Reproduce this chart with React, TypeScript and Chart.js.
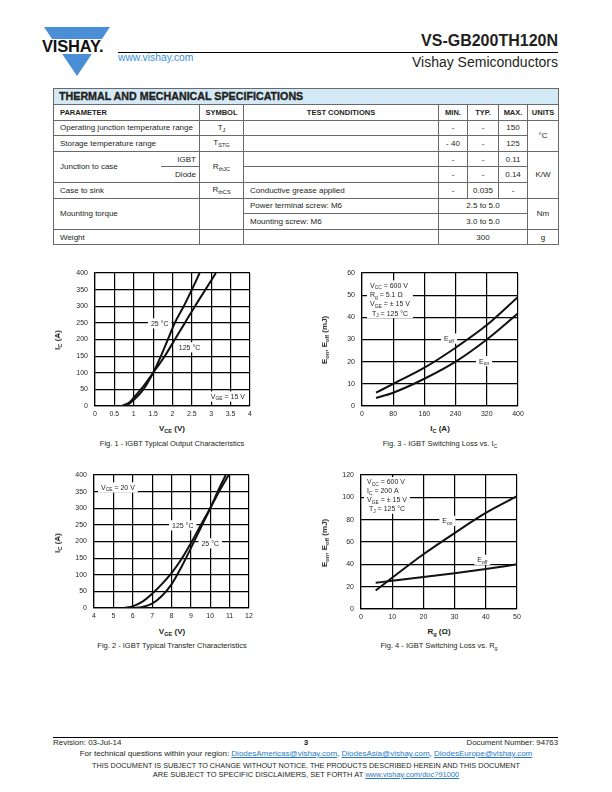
import React, { useEffect, useRef } from "react";
import { Chart, registerables } from "chart.js";

Chart.register(...registerables);

const FONT = "'Liberation Sans', Arial, Helvetica, sans-serif";
const INK = "#231f20";

// ---------- Fig. 1 - IGBT Typical Output Characteristics ----------
const FIG1_VCE_25C = [0.8, 1.0, 1.25, 1.5, 1.7, 1.88, 2.06, 2.29, 2.5, 2.7];
const FIG1_IC_25C = [0, 18, 50, 100, 150, 200, 250, 300, 350, 400];
const FIG1_VCE_125C = [0.68, 0.9, 1.0, 1.2, 1.5, 1.8, 2.06, 2.32, 2.58, 2.85, 3.12];
const FIG1_IC_125C = [0, 12, 25, 52, 100, 150, 200, 250, 300, 350, 400];

// ---------- Fig. 2 - IGBT Typical Transfer Characteristics ----------
const FIG2_VGE_125C = [5.55, 6, 6.5, 7, 7.5, 8, 8.5, 9, 9.5, 10, 10.5, 10.95];
const FIG2_IC_125C = [0, 5, 19, 43, 72, 105, 146, 195, 248, 300, 355, 400];
const FIG2_VGE_25C = [6.0, 6.5, 7, 7.5, 8, 8.5, 9, 9.5, 10, 10.4, 10.8];
const FIG2_IC_25C = [0, 3, 13, 36, 71, 122, 180, 240, 300, 352, 400];

// ---------- Fig. 3 - IGBT Switching Loss vs. IC ----------
const FIG3_IC = [36, 80, 160, 240, 320, 400];
const FIG3_EOFF = [6.0, 10.0, 17.3, 26.3, 36.5, 49.2];
const FIG3_EON = [3.6, 6.0, 12.3, 20.0, 30.0, 41.8];

// ---------- Fig. 4 - IGBT Switching Loss vs. Rg ----------
const FIG4_RG = [4.7, 10, 20, 30, 40, 50];
const FIG4_EON = [16.5, 28, 49, 68, 86, 101];
const FIG4_EOFF = [23.5, 25.2, 28.6, 32, 35.8, 40];

type Seg = { t: string; sub?: boolean };
type Ann = {
  x?: number;
  y?: number;
  px?: number;
  py?: number;
  lines: Seg[][];
  align?: "left" | "center";
  lh?: number;
};

const ANN_SIZE = 7;

function segFont(s: Seg) {
  return `${s.sub ? ANN_SIZE * 0.7 : ANN_SIZE}px ${FONT}`;
}
function measureLine(ctx: CanvasRenderingContext2D, line: Seg[]) {
  let w = 0;
  for (const s of line) {
    ctx.font = segFont(s);
    w += ctx.measureText(s.t).width;
  }
  return w;
}
function drawLine(ctx: CanvasRenderingContext2D, line: Seg[], x: number, cy: number) {
  let cx = x;
  ctx.textBaseline = "middle";
  ctx.textAlign = "left";
  ctx.fillStyle = INK;
  for (const s of line) {
    ctx.font = segFont(s);
    ctx.fillText(s.t, cx, s.sub ? cy + ANN_SIZE * 0.3 : cy);
    cx += ctx.measureText(s.t).width;
  }
}

const annPlugin = {
  id: "ann",
  beforeDatasetsDraw(chart: any, _args: any, opts: any) {
    const items: Ann[] = (opts && opts.items) || [];
    const ctx: CanvasRenderingContext2D = chart.ctx;
    const area = chart.chartArea;
    const xs = chart.scales.x;
    const ys = chart.scales.y;
    ctx.save();
    for (const it of items) {
      const cx = it.px !== undefined ? area.left + it.px : xs.getPixelForValue(it.x);
      const cy = it.py !== undefined ? area.top + it.py : ys.getPixelForValue(it.y);
      const lh = it.lh || 9.2;
      const widths = it.lines.map((l) => measureLine(ctx, l));
      const maxW = Math.max(...widths);
      const left = it.align === "left" ? cx : cx - maxW / 2;
      const top = cy - lh / 2;
      ctx.fillStyle = "#fff";
      ctx.fillRect(left - 3, top - 1, maxW + 6, it.lines.length * lh + 1);
      it.lines.forEach((l, i) => {
        const lx = it.align === "left" ? left : left + (maxW - widths[i]) / 2;
        drawLine(ctx, l, lx, top + i * lh + lh / 2);
      });
    }
    ctx.restore();
  },
};

type Series = { x: number[]; y: number[] };
type Spec = {
  plot: { l: number; t: number; w: number; h: number };
  xMin: number;
  xMax: number;
  xStep: number;
  yMin: number;
  yMax: number;
  yStep: number;
  series: Series[];
  anns: Ann[];
};

const YW = 40;
const XH = 18;
const PT = 6;
const PR = 10;

function fmt(v: any) {
  return `${+Number(v).toFixed(2)}`;
}

function ChartBox({ spec }: { spec: Spec }) {
  const ref = useRef<HTMLCanvasElement | null>(null);
  const W = YW + spec.plot.w + PR;
  const H = PT + spec.plot.h + XH;
  useEffect(() => {
    if (!ref.current) return;
    const tickFont = { family: FONT, size: 7 };
    const chart = new Chart(ref.current, {
      type: "line",
      data: {
        datasets: spec.series.map((s) => ({
          data: s.x.map((x, i) => ({ x, y: s.y[i] })),
          borderColor: "#111",
          borderWidth: 2,
          pointRadius: 0,
          fill: false,
          cubicInterpolationMode: "monotone",
        })),
      } as any,
      options: {
        animation: false,
        responsive: false,
        maintainAspectRatio: false,
        devicePixelRatio: 1,
        layout: { padding: { top: PT, right: PR, left: 0, bottom: 0 } },
        plugins: {
          legend: { display: false },
          tooltip: { enabled: false },
          ann: { items: spec.anns },
        } as any,
        scales: {
          x: {
            type: "linear",
            min: spec.xMin,
            max: spec.xMax,
            ticks: {
              stepSize: spec.xStep,
              font: tickFont,
              color: INK,
              padding: 4,
              maxRotation: 0,
              autoSkip: false,
              callback: fmt,
            },
            grid: { color: "#000", lineWidth: 1.2, drawTicks: false },
            border: { color: "#000", width: 1.2 },
            afterFit: (s: any) => {
              s.height = XH;
              s.paddingLeft = 0;
              s.paddingRight = 0;
              s.paddingTop = 0;
              s.paddingBottom = 0;
            },
          },
          y: {
            type: "linear",
            min: spec.yMin,
            max: spec.yMax,
            ticks: {
              stepSize: spec.yStep,
              font: tickFont,
              color: INK,
              padding: 7,
              autoSkip: false,
              callback: fmt,
            },
            grid: { color: "#000", lineWidth: 1.2, drawTicks: false },
            border: { color: "#000", width: 1.2 },
            afterFit: (s: any) => {
              s.width = YW;
              s.paddingTop = 0;
              s.paddingBottom = 0;
              s.paddingLeft = 0;
              s.paddingRight = 0;
            },
          },
        } as any,
      },
      plugins: [annPlugin as any],
    });
    return () => chart.destroy();
  }, []);
  return (
    <canvas
      ref={ref}
      width={W}
      height={H}
      style={{
        position: "absolute",
        left: spec.plot.l - YW,
        top: spec.plot.t - PT,
        width: W,
        height: H,
      }}
    />
  );
}

const S = (t: string): Seg => ({ t });
const B = (t: string): Seg => ({ t, sub: true });

const FIG1: Spec = {
  plot: { l: 95, t: 273, w: 155, h: 133 },
  xMin: 0,
  xMax: 4,
  xStep: 0.5,
  yMin: 0,
  yMax: 400,
  yStep: 50,
  series: [
    { x: FIG1_VCE_25C, y: FIG1_IC_25C },
    { x: FIG1_VCE_125C, y: FIG1_IC_125C },
  ],
  anns: [
    { x: 1.67, y: 247, lines: [[S("25 °C")]] },
    { x: 2.44, y: 175, lines: [[S("125 °C")]] },
    { x: 3.43, y: 27, lines: [[S("V"), B("GE"), S(" = 15 V")]] },
  ],
};

const FIG2: Spec = {
  plot: { l: 94, t: 475, w: 155, h: 133 },
  xMin: 4,
  xMax: 12,
  xStep: 1,
  yMin: 0,
  yMax: 400,
  yStep: 50,
  series: [
    { x: FIG2_VGE_125C, y: FIG2_IC_125C },
    { x: FIG2_VGE_25C, y: FIG2_IC_25C },
  ],
  anns: [
    { px: 7, py: 13, align: "left", lines: [[S("V"), B("CE"), S(" = 20 V")]] },
    { x: 8.58, y: 247, lines: [[S("125 °C")]] },
    { x: 10.0, y: 193, lines: [[S("25 °C")]] },
  ],
};

const FIG3: Spec = {
  plot: { l: 362, t: 273, w: 156, h: 133 },
  xMin: 0,
  xMax: 400,
  xStep: 80,
  yMin: 0,
  yMax: 60,
  yStep: 10,
  series: [
    { x: FIG3_IC, y: FIG3_EOFF },
    { x: FIG3_IC, y: FIG3_EON },
  ],
  anns: [
    {
      px: 8,
      py: 13,
      align: "left",
      lh: 9.2,
      lines: [
        [S("V"), B("CC"), S(" = 600 V")],
        [S("R"), B("g"), S(" = 5.1 Ω")],
        [S("V"), B("GE"), S(" = ± 15 V")],
        [S(" T"), B("J"), S(" = 125 °C")],
      ],
    },
    { x: 223, y: 30.2, lines: [[S("E"), B("off")]] },
    { x: 313, y: 20, lines: [[S("E"), B("on")]] },
  ],
};

const FIG4: Spec = {
  plot: { l: 361, t: 475, w: 156, h: 134 },
  xMin: 0,
  xMax: 50,
  xStep: 10,
  yMin: 0,
  yMax: 120,
  yStep: 20,
  series: [
    { x: FIG4_RG, y: FIG4_EON },
    { x: FIG4_RG, y: FIG4_EOFF },
  ],
  anns: [
    {
      px: 6,
      py: 7.5,
      align: "left",
      lh: 8.9,
      lines: [
        [S("V"), B("CC"), S(" = 600 V")],
        [S("I"), B("C"), S(" = 200 A")],
        [S("V"), B("GE"), S(" = ± 15 V")],
        [S(" T"), B("J"), S(" = 125 °C")],
      ],
    },
    { x: 27.7, y: 78.5, lines: [[S("E"), B("on")]] },
    { x: 38.9, y: 43.6, lines: [[S("E"), B("off")]] },
  ],
};

function Sub({ children }: { children: React.ReactNode }) {
  return (
    <span style={{ fontSize: "70%", position: "relative", top: "0.3em" }}>{children}</span>
  );
}

function Txt({
  x,
  y,
  size,
  children,
  align = "left",
  bold = false,
  color,
  w = 520,
}: {
  x: number;
  y: number;
  size: number;
  children: React.ReactNode;
  align?: "left" | "center" | "right";
  bold?: boolean;
  color?: string;
  w?: number;
}) {
  const left = align === "left" ? x : align === "center" ? x - w / 2 : x - w;
  return (
    <div
      style={{
        position: "absolute",
        left,
        top: y - size / 2,
        width: w,
        textAlign: align,
        fontSize: size,
        lineHeight: `${size}px`,
        fontWeight: bold ? "bold" : "normal",
        whiteSpace: "nowrap",
        color: color || INK,
      }}
    >
      {children}
    </div>
  );
}

function VTxt({ x, y, size, children }: { x: number; y: number; size: number; children: React.ReactNode }) {
  return (
    <div
      style={{
        position: "absolute",
        left: x,
        top: y,
        transform: "translate(-50%, -50%) rotate(-90deg)",
        fontSize: size,
        lineHeight: `${size}px`,
        fontWeight: "bold",
        whiteSpace: "nowrap",
        color: INK,
      }}
    >
      {children}
    </div>
  );
}

const BORDER = "1px solid #6a6a6a";
const td = (extra: React.CSSProperties = {}): React.CSSProperties => ({
  border: BORDER,
  padding: "0 0 0 6px",
  fontSize: 8,
  lineHeight: "9px",
  height: 14.6,
  verticalAlign: "middle",
  whiteSpace: "nowrap",
  overflow: "hidden",
  color: INK,
  ...extra,
});
const tc = (extra: React.CSSProperties = {}) => td({ textAlign: "center", padding: 0, ...extra });
const th = (extra: React.CSSProperties = {}) =>
  td({ fontWeight: "bold", fontSize: 7.5, textAlign: "center", padding: 0, ...extra });

function SpecTable() {
  return (
    <table
      style={{
        position: "absolute",
        left: 53,
        top: 88,
        width: 505,
        borderCollapse: "collapse",
        tableLayout: "fixed",
        fontFamily: FONT,
      }}
    >
      <colgroup>
        <col style={{ width: 107 }} />
        <col style={{ width: 39 }} />
        <col style={{ width: 44 }} />
        <col style={{ width: 195 }} />
        <col style={{ width: 29 }} />
        <col style={{ width: 31 }} />
        <col style={{ width: 29 }} />
        <col style={{ width: 31 }} />
      </colgroup>
      <tbody>
        <tr>
          <td
            colSpan={8}
            style={td({
              background: "#d4e9f6",
              fontWeight: "bold",
              fontSize: 10.7,
              padding: "0 0 0 5px",
              height: 15,
              WebkitTextStroke: "0.35px #231f20",
            } as any)}
          >
            THERMAL AND MECHANICAL SPECIFICATIONS
          </td>
        </tr>
        <tr>
          <td colSpan={2} style={th({ textAlign: "left", paddingLeft: 6 })}>PARAMETER</td>
          <td style={th()}>SYMBOL</td>
          <td style={th()}>TEST CONDITIONS</td>
          <td style={th()}>MIN.</td>
          <td style={th()}>TYP.</td>
          <td style={th()}>MAX.</td>
          <td style={th()}>UNITS</td>
        </tr>
        <tr>
          <td colSpan={2} style={td()}>Operating junction temperature range</td>
          <td style={tc()}>T<Sub>J</Sub></td>
          <td style={td()}></td>
          <td style={tc()}>-</td>
          <td style={tc()}>-</td>
          <td style={tc()}>150</td>
          <td rowSpan={2} style={tc()}>°C</td>
        </tr>
        <tr>
          <td colSpan={2} style={td()}>Storage temperature range</td>
          <td style={tc()}>T<Sub>STG</Sub></td>
          <td style={td()}></td>
          <td style={tc()}>- 40</td>
          <td style={tc()}>-</td>
          <td style={tc()}>125</td>
        </tr>
        <tr>
          <td rowSpan={2} style={td({ borderRight: "hidden" })}>Junction to case</td>
          <td style={td({ borderLeft: "hidden", textAlign: "right", padding: "0 3px 0 0" })}>IGBT</td>
          <td rowSpan={2} style={tc()}>R<Sub>thJC</Sub></td>
          <td style={td()}></td>
          <td style={tc()}>-</td>
          <td style={tc()}>-</td>
          <td style={tc()}>0.11</td>
          <td rowSpan={3} style={tc()}>K/W</td>
        </tr>
        <tr>
          <td style={td({ borderLeft: "hidden", textAlign: "right", padding: "0 3px 0 0" })}>Diode</td>
          <td style={td()}></td>
          <td style={tc()}>-</td>
          <td style={tc()}>-</td>
          <td style={tc()}>0.14</td>
        </tr>
        <tr>
          <td colSpan={2} style={td()}>Case to sink</td>
          <td style={tc()}>R<Sub>thCS</Sub></td>
          <td style={td()}>Conductive grease applied</td>
          <td style={tc()}>-</td>
          <td style={tc()}>0.035</td>
          <td style={tc()}>-</td>
        </tr>
        <tr>
          <td colSpan={2} rowSpan={2} style={td()}>Mounting torque</td>
          <td rowSpan={2} style={td()}></td>
          <td style={td()}>Power terminal screw: M6</td>
          <td colSpan={3} style={tc()}>2.5 to 5.0</td>
          <td rowSpan={2} style={tc()}>Nm</td>
        </tr>
        <tr>
          <td style={td()}>Mounting screw: M6</td>
          <td colSpan={3} style={tc()}>3.0 to 5.0</td>
        </tr>
        <tr>
          <td colSpan={2} style={td()}>Weight</td>
          <td style={td()}></td>
          <td style={td()}></td>
          <td colSpan={3} style={tc()}>300</td>
          <td style={tc()}>g</td>
        </tr>
      </tbody>
    </table>
  );
}

const LINK = "#2b7bc4";
function A({ children }: { children: React.ReactNode }) {
  return <span style={{ color: LINK, textDecoration: "underline" }}>{children}</span>;
}

export default function App() {
  return (
    <div
      style={{
        position: "absolute",
        left: 0,
        top: 0,
        width: 612,
        height: 792,
        background: "#fff",
        fontFamily: FONT,
        color: INK,
        overflow: "hidden",
      }}
    >
      {/* Header */}
      <svg width={612} height={90} style={{ position: "absolute", left: 0, top: 0 }}>
        <polygon points="44,27 110,27 77,76" fill="#4a8fd6" />
        <rect x={38} y={39} width={78} height={15} fill="#fff" />
        <text
          x={42}
          y={52}
          fontFamily={FONT}
          fontWeight="bold"
          fontSize={16.5}
          fill="#111"
          letterSpacing={-0.2}
        >
          VISHAY.
        </text>
      </svg>
      <div style={{ position: "absolute", left: 118, top: 51.5, width: 440, height: 1, background: "#000" }} />
      <Txt x={558} y={41} size={16} align="right" bold>
        VS-GB200TH120N
      </Txt>
      <Txt x={118} y={58} size={10.3} color="#3a8fd8">
        www.vishay.com
      </Txt>
      <Txt x={558} y={62} size={14} align="right">
        Vishay Semiconductors
      </Txt>

      <SpecTable />

      {/* Fig 1 */}
      <ChartBox spec={FIG1} />
      <VTxt x={58} y={340} size={8}>
        I<Sub>C</Sub> (A)
      </VTxt>
      <Txt x={172} y={429} size={8} align="center" bold>
        V<Sub>CE</Sub> (V)
      </Txt>
      <Txt x={172} y={444} size={7.5} align="center">
        Fig. 1 - IGBT Typical Output Characteristics
      </Txt>

      {/* Fig 3 */}
      <ChartBox spec={FIG3} />
      <VTxt x={325} y={340} size={8}>
        E<Sub>on</Sub>, E<Sub>off</Sub> (mJ)
      </VTxt>
      <Txt x={440} y={429} size={8} align="center" bold>
        I<Sub>C</Sub> (A)
      </Txt>
      <Txt x={440} y={444} size={7.5} align="center">
        Fig. 3 - IGBT Switching Loss vs. I<Sub>C</Sub>
      </Txt>

      {/* Fig 2 */}
      <ChartBox spec={FIG2} />
      <VTxt x={58} y={543} size={8}>
        I<Sub>C</Sub> (A)
      </VTxt>
      <Txt x={172} y={632} size={8} align="center" bold>
        V<Sub>GE</Sub> (V)
      </Txt>
      <Txt x={172} y={646} size={7.5} align="center">
        Fig. 2 - IGBT Typical Transfer Characteristics
      </Txt>

      {/* Fig 4 */}
      <ChartBox spec={FIG4} />
      <VTxt x={325} y={543} size={8}>
        E<Sub>on</Sub>, E<Sub>off</Sub> (mJ)
      </VTxt>
      <Txt x={439} y={632} size={8} align="center" bold>
        R<Sub>g</Sub> (Ω)
      </Txt>
      <Txt x={439} y={646} size={7.5} align="center">
        Fig. 4 - IGBT Switching Loss vs. R<Sub>g</Sub>
      </Txt>

      {/* Footer */}
      <div style={{ position: "absolute", left: 53, top: 736.5, width: 505, height: 1.2, background: "#000" }} />
      <Txt x={53} y={743} size={8}>
        Revision: 03-Jul-14
      </Txt>
      <Txt x={306} y={743} size={8} align="center" bold>
        3
      </Txt>
      <Txt x={558} y={743} size={7.8} align="right">
        Document Number: 94763
      </Txt>
      <Txt x={306} y={754} size={8.0} align="center" w={600}>
        For technical questions within your region: <A>DiodesAmericas@vishay.com</A>, <A>DiodesAsia@vishay.com</A>,{" "}
        <A>DiodesEurope@vishay.com</A>
      </Txt>
      <Txt x={306} y={765.5} size={7.25} align="center" w={600}>
        THIS DOCUMENT IS SUBJECT TO CHANGE WITHOUT NOTICE. THE PRODUCTS DESCRIBED HEREIN AND THIS DOCUMENT
      </Txt>
      <Txt x={306} y={774.5} size={7.5} align="center" w={600}>
        ARE SUBJECT TO SPECIFIC DISCLAIMERS, SET FORTH AT <A>www.vishay.com/doc?91000</A>
      </Txt>
    </div>
  );
}
